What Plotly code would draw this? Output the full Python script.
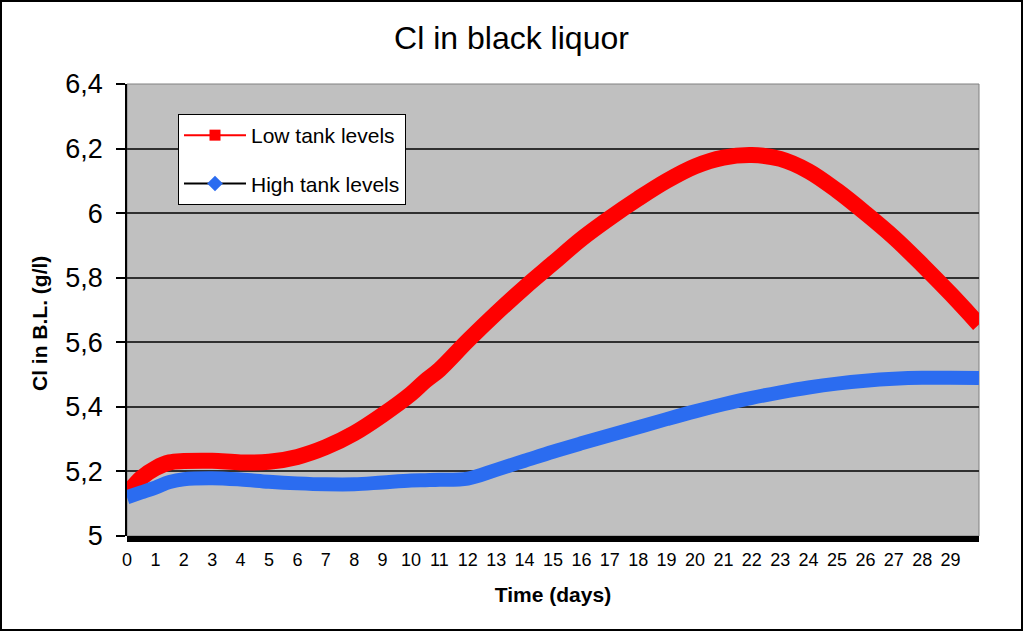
import plotly.graph_objects as go

# ---- data ----
days = [0, 0.5, 1, 1.5, 2, 3, 4, 5, 6, 7, 8, 9, 10, 10.5, 11, 12, 13, 14, 15,
        16, 17, 18, 19, 20, 21, 22, 23, 24, 25, 26, 27, 28, 29, 30]
low_tank = [5.13, 5.18, 5.21, 5.228, 5.232, 5.233, 5.228, 5.23, 5.245, 5.275,
            5.318, 5.375, 5.44, 5.48, 5.515, 5.605, 5.69, 5.77, 5.845, 5.92,
            5.985, 6.045, 6.1, 6.145, 6.172, 6.18, 6.168, 6.13, 6.07, 6.0,
            5.925, 5.84, 5.75, 5.655]
high_tank = [5.12, 5.135, 5.15, 5.167, 5.176, 5.179, 5.175, 5.168, 5.163, 5.16,
             5.16, 5.166, 5.172, 5.173, 5.174, 5.178, 5.205, 5.233, 5.261, 5.287,
             5.312, 5.337, 5.362, 5.386, 5.408, 5.428, 5.445, 5.46, 5.472, 5.481,
             5.487, 5.49, 5.49, 5.489]
x_ticks = list(range(0, 30))
y_ticks = [5.0, 5.2, 5.4, 5.6, 5.8, 6.0, 6.2, 6.4]
y_tick_labels = ["5", "5,2", "5,4", "5,6", "5,8", "6", "6,2", "6,4"]
series_names = ["Low tank levels", "High tank levels"]

RED = "#FF0000"
BLUE = "#2B6CF0"
FONT = "Arial, Liberation Sans, sans-serif"

W, H = 1023, 631
L, R, T, B = 127, 44, 84, 95
pw, ph = W - L - R, H - T - B

fig = go.Figure()

fig.add_trace(go.Scatter(x=days, y=low_tank, mode="lines",
                         line=dict(color=RED, width=16, shape="spline", smoothing=1.0),
                         showlegend=False, hoverinfo="x+y"))
fig.add_trace(go.Scatter(x=days, y=high_tank, mode="lines",
                         line=dict(color=BLUE, width=14, shape="spline", smoothing=1.0),
                         showlegend=False, hoverinfo="x+y"))

# legend entries (line + marker look)
fig.add_trace(go.Scatter(x=[None], y=[None], mode="lines+markers", name=series_names[0],
                         line=dict(color=RED, width=2),
                         marker=dict(symbol="square", color=RED, size=11),
                         legendgroup="a"))
fig.add_trace(go.Scatter(x=[None], y=[None], mode="lines+markers", name=series_names[1],
                         line=dict(color="black", width=2),
                         marker=dict(symbol="diamond", color=BLUE, size=12),
                         legendgroup="b"))

shapes = [
    # plot area border
    dict(type="rect", xref="paper", yref="paper", x0=0, x1=1, y0=0, y1=1,
         line=dict(color="#808080", width=1), layer="below"),
    # thick floor bar
    dict(type="rect", xref="paper", yref="paper", x0=0, x1=1, y0=-6 / ph, y1=0,
         fillcolor="black", line=dict(width=0)),
    # outer frame
    dict(type="rect", xref="paper", yref="paper",
         x0=-(L - 1) / pw, x1=(pw + R - 1) / pw,
         y0=-(B - 1) / ph, y1=(ph + T - 1) / ph,
         line=dict(color="black", width=2)),
]

fig.update_layout(
    width=W, height=H,
    margin=dict(l=L, r=R, t=T, b=B),
    paper_bgcolor="white",
    plot_bgcolor="#C0C0C0",
    font=dict(family=FONT, color="black"),
    title=dict(text="Cl in black liquor", x=0.5, xanchor="center",
               y=1 - 38 / H, yanchor="middle", yref="container",
               font=dict(size=32, family=FONT, color="black")),
    legend=dict(x=51 / pw, y=(ph - 30) / ph, xanchor="left", yanchor="top",
                bgcolor="white", bordercolor="black", borderwidth=1,
                font=dict(size=21, family=FONT), traceorder="grouped",
                tracegroupgap=18, itemwidth=62),
    shapes=shapes,
    annotations=[
        dict(text="<b>Cl in B.L. (g/l)</b>", textangle=-90, showarrow=False,
             xref="paper", yref="paper", x=(39 - L) / pw, y=(ph + T - 324) / ph,
             xanchor="center", yanchor="middle",
             font=dict(size=21, family=FONT, color="black")),
    ],
    xaxis=dict(range=[0, 30], tickmode="array", tickvals=x_ticks,
               ticktext=[str(v) for v in x_ticks], showgrid=False, zeroline=False,
               ticks="", tickfont=dict(size=18, family=FONT), ticklabelstandoff=11,
               showline=False,
               title=dict(text="<b>Time (days)</b>", font=dict(size=21, family=FONT),
                          standoff=18)),
    yaxis=dict(range=[5, 6.4], tickmode="array", tickvals=y_ticks,
               ticktext=y_tick_labels, showgrid=True, gridcolor="#303030",
               gridwidth=1.5, zeroline=False, showline=True, linecolor="black",
               linewidth=1.5, ticks="outside", ticklen=9, tickcolor="black",
               tickwidth=1.5, tickfont=dict(size=27, family=FONT),
               ticklabelstandoff=8),
)

fig.write_html("out.html")
